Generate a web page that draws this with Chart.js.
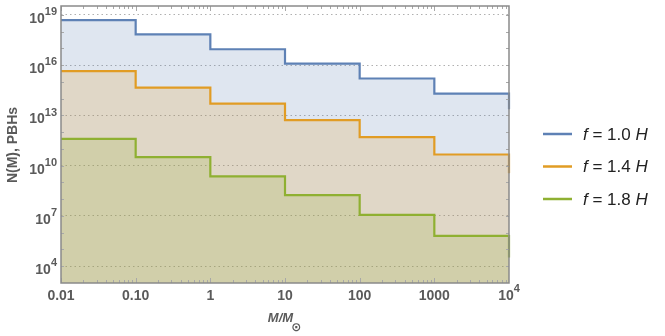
<!DOCTYPE html>
<html>
<head>
<meta charset="utf-8">
<script src="https://cdn.jsdelivr.net/npm/chart.js@4"></script>
<style>
    body { margin: 0; background: #fff; }
    #wrap { width: 665px; height: 336px; }
</style>
</head>
<body>
<div id="wrap"><canvas id="pbh_chart" width="665" height="336"></canvas></div>
<script>
'use strict';

// bin edges in solar masses, last point only closes the final step
const mass_edges = [0.01, 0.1, 1, 10, 100, 1000, 10000];
const n_f10 = [5e18, 7e17, 9e16, 1.25e16, 1.6e15, 2e14, 2.3e13];
const n_f14 = [4.4e15, 4.6e14, 5e13, 5.2e12, 5e11, 4.6e10, 3.5e9];
const n_f18 = [4e11, 3.2e10, 2.3e9, 1.7e8, 1.15e7, 6.3e5, 3.2e4];
const series_f = ['1.0', '1.4', '1.8'];
const series_colors = ['#5e81b5', '#e19c24', '#8fb032'];
const series_fills = ['rgba(94,129,181,0.2)', 'rgba(225,156,36,0.2)', 'rgba(143,176,50,0.2)'];

const x_ticks = [0.01, 0.1, 1, 10, 100, 1000, 10000];
const x_tick_labels = ['0.01', '0.10', '1', '10', '100', '1000', '10^4'];
const y_ticks = [1e4, 1e7, 1e10, 1e13, 1e16, 1e19];
const y_tick_labels = ['10^4', '10^7', '10^10', '10^13', '10^16', '10^19'];

const label_color = '#5a5a5a';
const font_family = '"Liberation Sans", Arial, sans-serif';

function to_points(values) {
    return mass_edges.map((m, i) => ({x: m, y: values[i]}));
}

function make_dataset(values, idx) {
    return {
        label: 'f = ' + series_f[idx] + ' H',
        data: to_points(values),
        stepped: true,
        borderColor: series_colors[idx],
        backgroundColor: series_fills[idx],
        borderWidth: 2.2,
        pointRadius: 0,
        fill: 'start',
        order: 3 - idx,
        clip: 3,
    };
}

// draws "10^n" style text with a raised exponent
function draw_power(ctx, text, x, y, align, size) {
    const parts = text.split('^');
    ctx.font = 'bold ' + size + 'px ' + font_family;
    const base_w = ctx.measureText(parts[0]).width;
    let exp_w = 0;
    if (parts.length > 1) {
        ctx.font = 'bold ' + Math.round(size * 0.75) + 'px ' + font_family;
        exp_w = ctx.measureText(parts[1]).width;
    }
    const total = base_w + exp_w;
    let start = x;
    if (align === 'center') start = x - total / 2;
    if (align === 'right') start = x - total;
    ctx.textAlign = 'left';
    ctx.textBaseline = 'alphabetic';
    ctx.font = 'bold ' + size + 'px ' + font_family;
    ctx.fillText(parts[0], start, y);
    if (parts.length > 1) {
        ctx.font = 'bold ' + Math.round(size * 0.75) + 'px ' + font_family;
        ctx.fillText(parts[1], start + base_w, y - size * 0.55);
    }
}

const frame_plugin = {
    id: 'frame_plugin',
    afterDraw(chart) {
        const ctx = chart.ctx;
        const area = chart.chartArea;
        const xs = chart.scales.x;
        const ys = chart.scales.y;
        ctx.save();

        // inner tick marks
        ctx.strokeStyle = '#a8a8a8';
        ctx.lineWidth = 1;
        ctx.beginPath();
        for (let e = -2; e <= 3; e++) {
            for (let k = 1; k <= 9; k++) {
                const px = Math.round(xs.getPixelForValue(k * Math.pow(10, e))) + 0.5;
                const len = k === 1 ? 5 : 3;
                ctx.moveTo(px, area.bottom);
                ctx.lineTo(px, area.bottom - len);
                ctx.moveTo(px, area.top);
                ctx.lineTo(px, area.top + len);
            }
        }
        for (let e = 4; e <= 19; e++) {
            const py = Math.round(ys.getPixelForValue(Math.pow(10, e))) + 0.5;
            ctx.moveTo(area.left, py);
            ctx.lineTo(area.left + 3, py);
            ctx.moveTo(area.right, py);
            ctx.lineTo(area.right - 3, py);
        }
        ctx.stroke();

        // frame
        ctx.strokeStyle = '#8a8a8a';
        ctx.lineWidth = 1.5;
        ctx.strokeRect(area.left, area.top, area.right - area.left, area.bottom - area.top);

        // tick labels
        ctx.fillStyle = label_color;
        x_ticks.forEach((v, i) => {
            draw_power(ctx, x_tick_labels[i], xs.getPixelForValue(v), 300, 'center', 14);
        });
        y_ticks.forEach((v, i) => {
            draw_power(ctx, y_tick_labels[i], 57, ys.getPixelForValue(v) + 8, 'right', 14);
        });

        // axis titles
        ctx.save();
        ctx.translate(13, 145);
        ctx.rotate(-Math.PI / 2);
        ctx.font = 'bold 14px ' + font_family;
        ctx.textAlign = 'center';
        ctx.textBaseline = 'middle';
        ctx.fillText('N(M), PBHs', 0, 0);
        ctx.restore();

        ctx.font = 'italic bold 13px ' + font_family;
        const mw = ctx.measureText('M/M').width;
        ctx.textAlign = 'left';
        ctx.textBaseline = 'alphabetic';
        const tx = 285 - (mw + 9) / 2;
        ctx.fillText('M/M', tx, 322);
        ctx.font = 'bold 12px "DejaVu Sans", sans-serif';
        ctx.fillText('\u2299', tx + mw - 2, 331);

        // legend
        series_f.forEach((f, i) => {
            const y = 134 + i * 32.5;
            ctx.strokeStyle = series_colors[i];
            ctx.lineWidth = 2.5;
            ctx.beginPath();
            ctx.moveTo(543, y);
            ctx.lineTo(572, y);
            ctx.stroke();
            ctx.fillStyle = '#222';
            ctx.textBaseline = 'middle';
            let x = 583;
            ctx.font = 'italic 17px ' + font_family;
            ctx.fillText('f', x, y + 1);
            x += ctx.measureText('f').width;
            ctx.font = '17px ' + font_family;
            const mid = ' = ' + f + ' ';
            ctx.fillText(mid, x, y + 1);
            x += ctx.measureText(mid).width;
            ctx.font = 'italic 17px ' + font_family;
            ctx.fillText('H', x, y + 1);
        });

        ctx.restore();
    }
};

const ctx = document.getElementById('pbh_chart').getContext('2d');
new Chart(ctx, {
    type: 'line',
    data: {
        datasets: [
            make_dataset(n_f10, 0),
            make_dataset(n_f14, 1),
            make_dataset(n_f18, 2),
        ]
    },
    options: {
        responsive: false,
        animation: false,
        layout: {padding: {left: 0, top: 6, right: 156, bottom: 0}},
        plugins: {
            legend: {display: false},
            tooltip: {enabled: false},
        },
        scales: {
            x: {
                type: 'logarithmic',
                min: 0.01,
                max: 10000,
                afterBuildTicks: (s) => { s.ticks = x_ticks.map(v => ({value: v})); },
                afterFit: (s) => { s.height = 53; },
                ticks: {display: false},
                grid: {display: false},
                border: {display: false},
            },
            y: {
                type: 'logarithmic',
                min: 964,
                max: 3.45e19,
                afterBuildTicks: (s) => { s.ticks = y_ticks.map(v => ({value: v})); },
                afterFit: (s) => { s.width = 61; },
                ticks: {display: false},
                grid: {color: '#b0b0b0', lineWidth: 1, drawTicks: false},
                border: {display: false, dash: [1.5, 3]},
            },
        },
    },
    plugins: [frame_plugin],
});
</script>
</body>
</html>
